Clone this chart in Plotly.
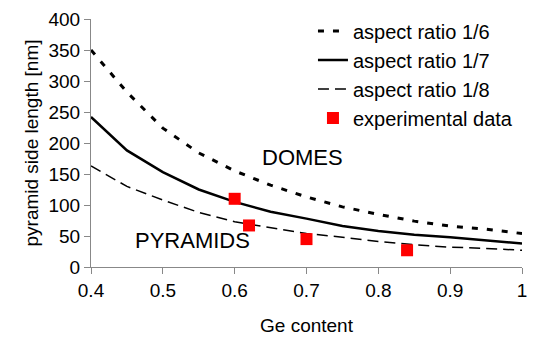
import plotly.graph_objects as go

ge = [0.40, 0.45, 0.50, 0.55, 0.60, 0.65, 0.70, 0.75, 0.80, 0.85, 0.90, 0.95, 1.00]
ratio_1_6 = [350, 282, 224, 184, 155, 132, 113, 97, 85, 74, 66, 61, 54]
ratio_1_7 = [242, 188, 153, 125, 105, 89, 78, 66, 58, 52, 48, 43, 38]
ratio_1_8 = [163, 130, 108, 88, 73, 63, 54, 48, 41, 36, 32, 30, 27]
exp_ge = [0.60, 0.62, 0.70, 0.84]
exp_len = [110, 67, 45, 27]

FONT = "Liberation Sans, Arial, sans-serif"

fig = go.Figure()
fig.add_trace(go.Scatter(x=ge, y=ratio_1_6, mode="lines", name="aspect ratio 1/6",
                         legendgroup="a",
                         line=dict(color="black", width=3, dash="6px,9px")))
fig.add_trace(go.Scatter(x=ge, y=ratio_1_7, mode="lines", name="aspect ratio 1/7",
                         legendgroup="b",
                         line=dict(color="black", width=2.5)))
fig.add_trace(go.Scatter(x=ge, y=ratio_1_8, mode="lines", name="aspect ratio 1/8",
                         legendgroup="c",
                         line=dict(color="black", width=1.5, dash="11px,6px")))
fig.add_trace(go.Scatter(x=exp_ge, y=exp_len, mode="markers", name="experimental data",
                         legendgroup="d",
                         marker=dict(symbol="square", size=12, color="#ff0000")))

fig.add_annotation(x=0.694, y=176, text="DOMES", showarrow=False,
                   font=dict(family=FONT, size=22, color="black"))
fig.add_annotation(x=0.541, y=42, text="PYRAMIDS", showarrow=False,
                   font=dict(family=FONT, size=22, color="black"))

axis_common = dict(showgrid=False, zeroline=False, showline=True, linecolor="#888888",
                   linewidth=1, ticks="outside", ticklen=6, tickcolor="#888888",
                   tickfont=dict(family=FONT, size=19, color="black"))

fig.update_xaxes(range=[0.4, 1.0], tickvals=[0.4, 0.5, 0.6, 0.7, 0.8, 0.9, 1.0],
                 ticktext=["0.4", "0.5", "0.6", "0.7", "0.8", "0.9", "1"],
                 title=dict(text="Ge content", font=dict(family=FONT, size=19, color="black"),
                            standoff=18),
                 **axis_common)
fig.update_yaxes(range=[0, 400], dtick=50,
                 title=dict(text="pyramid side length [nm]",
                            font=dict(family=FONT, size=19, color="black"), standoff=4),
                 **axis_common)

fig.update_layout(
    width=536, height=345,
    margin=dict(l=91, r=9, t=13, b=78),
    plot_bgcolor="white", paper_bgcolor="white",
    font=dict(family=FONT, size=19, color="black"),
    legend=dict(x=0.515, y=1.03, xanchor="left", yanchor="top", bgcolor="rgba(0,0,0,0)",
                traceorder="grouped", tracegroupgap=0,
                font=dict(family=FONT, size=20, color="black")),
)

fig.write_html("out.html")
